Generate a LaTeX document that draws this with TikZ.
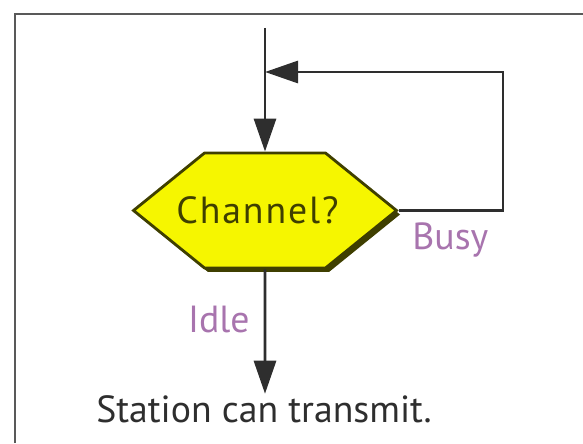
\documentclass[tikz,border=0pt]{standalone}
\usepackage{fontspec}
\setmainfont{PT Sans}
\usepackage{tikz}
\usetikzlibrary{shapes.symbols,arrows.meta,positioning,calc,shadows}

\definecolor{olivedark}{HTML}{3F3F00}
\definecolor{hexyellow}{HTML}{F6F600}
\definecolor{labelpink}{HTML}{A874AE}
\definecolor{linegray}{HTML}{2E2E2E}

\begin{document}
\begin{tikzpicture}[
  hexblock/.style={signal, signal to=west and east, signal pointer angle=78, draw=olivedark, line width=1.6pt, fill=hexyellow, minimum width=5.26cm, minimum height=2.3cm, inner sep=0pt, text=olivedark, font=\fontsize{21.5}{25}\selectfont\addfontfeatures{LetterSpace=5}, drop shadow={shadow xshift=0.07cm, shadow yshift=-0.08cm, fill=olivedark, opacity=1}},
  arrow/.style={-{Triangle[length=0.66cm, width=0.44cm]}, line width=1.7pt, draw=linegray},
  lbl/.style={text=labelpink, font=\fontsize{21.5}{25}\selectfont, inner sep=0pt}
]
  \useasboundingbox (0,0) rectangle (11.66,8.86);
  % outer frame (cut by the picture edge)
  \draw[line width=1.6pt, draw=black!65] (0.30,0) -- (0.30,8.58) -- (11.66,8.58);

  \coordinate (start) at (5.30,8.30);
  \coordinate (join) at (5.30,7.42);
  \coordinate (turn) at (10.06,7.42);

  \node[hexblock] (channel) at (5.30,4.65) {\makebox[0pt]{\hspace*{-0.3cm}Channel?}};
  \node[anchor=base, text=linegray, font=\fontsize{21.5}{25}\selectfont, inner sep=0pt] (station) at (5.28,0.40) {Station can transmit.};

  \draw[arrow] (start) -- (channel.north);
  \draw[arrow] (channel.east) -| (turn) -- (join);
  \draw[arrow] (channel.south) -- ($(station.north)+(0.02,0.04)$);

  \node[lbl, anchor=base west] (busy) at (8.24,3.86) {Busy};
  \node[lbl, anchor=base east] (idle) at (5.00,2.20) {Idle};
\end{tikzpicture}
\end{document}
